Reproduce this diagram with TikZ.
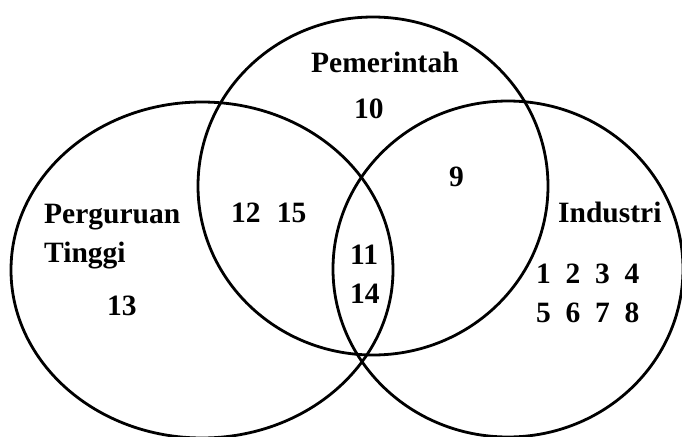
\documentclass[tikz,border=0pt]{standalone}
\usepackage{fontspec}
\setmainfont{Liberation Serif}
\begin{document}
\begin{tikzpicture}[x=1pt,y=-1pt,
  setc/.style={draw=black,line width=2.8pt},
  lbl/.style={font=\fontsize{29.5}{34}\selectfont\bfseries,inner sep=0pt,anchor=base west}]
\useasboundingbox (0,0) rectangle (682,436);
\fill[white] (0,0) rectangle (682,436);
\begin{scope}
\clip (0,0) rectangle (682,436);
\draw[setc] (373,186) ellipse [x radius=175pt, y radius=169pt];
\draw[setc] (202,270) ellipse [x radius=191pt, y radius=168pt];
\draw[setc] (508,269) ellipse [x radius=175pt, y radius=168pt];
\end{scope}
\node[lbl] (pem) at (311,72) {Pemerintah};
\node[lbl] (n10) at (354,118) {10};
\node[lbl] (n9) at (449,186) {9};
\node[lbl] (pt1) at (44,223) {Perguruan};
\node[lbl] (pt2) at (44,262) {Tinggi};
\node[lbl] (n1215) at (231,222) {12\hspace{0.55em}15};
\node[lbl] (n13) at (107,315) {13};
\node[lbl] (n11) at (350,264) {11};
\node[lbl] (n14) at (350,303) {14};
\node[lbl] (ind) at (558,222) {Industri};
\node[lbl] (row1) at (536,283) {1\hspace{0.5em}2\hspace{0.5em}3\hspace{0.5em}4};
\node[lbl] (row2) at (536,322) {5\hspace{0.5em}6\hspace{0.5em}7\hspace{0.5em}8};
\end{tikzpicture}
\end{document}
